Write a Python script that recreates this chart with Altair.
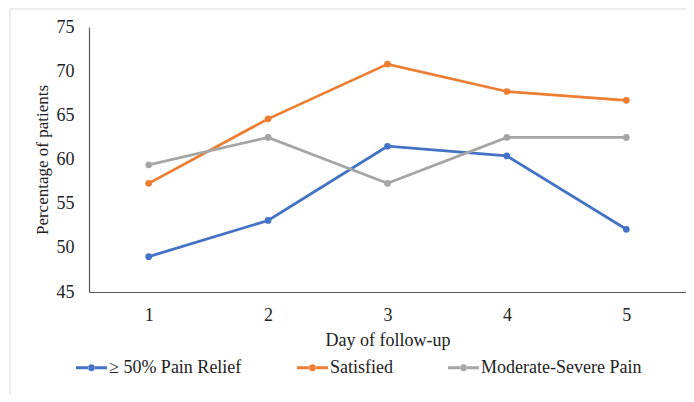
import altair as alt
import pandas as pd

days = ["1", "2", "3", "4", "5"]
series_names = ["≥ 50% Pain Relief", "Satisfied", "Moderate-Severe Pain"]
pain_relief = [49.0, 53.1, 61.5, 60.4, 52.1]
satisfied = [57.3, 64.6, 70.8, 67.7, 66.7]
mod_severe = [59.4, 62.5, 57.3, 62.5, 62.5]
colors = ["#4472C4", "#ED7D31", "#A5A5A5"]

rows = []
for name, vals in zip(series_names, [pain_relief, satisfied, mod_severe]):
    for d, v in zip(days, vals):
        rows.append({"Day": d, "Value": v, "Series": name})
df = pd.DataFrame(rows)

FONT = "Liberation Serif"
legend_path = ("M-1,-0.1H-0.2V0.1H-1Z M0.2,-0.1H1V0.1H0.2Z "
               "M0.23,0A0.23,0.23 0 1,0 -0.23,0A0.23,0.23 0 1,0 0.23,0Z")

x = alt.X("Day:O", sort=days, scale=alt.Scale(type="point", padding=0.5),
          axis=alt.Axis(title="Day of follow-up", labelAngle=0, ticks=False, tickSize=0,
                        labelPadding=14, titlePadding=7, domainColor="#595959",
                        domainWidth=1.2, labelFontSize=18, titleFontSize=18))
y = alt.Y("Value:Q", scale=alt.Scale(domain=[45, 75], nice=False, zero=False),
          axis=alt.Axis(title="Percentage of patients", values=[45, 50, 55, 60, 65, 70, 75],
                        grid=False, ticks=False, tickSize=0, labelPadding=15, titlePadding=5,
                        domainColor="#595959", domainWidth=1.2, labelFontSize=18,
                        titleFontSize=17))
color = alt.Color("Series:N", sort=series_names,
                  scale=alt.Scale(domain=series_names, range=colors),
                  legend=alt.Legend(title=None, orient="none", direction="horizontal",
                                    legendX=-13, legendY=325, symbolType=legend_path,
                                    symbolSize=961, symbolStrokeWidth=0, labelOffset=2,
                                    columnPadding=55, padding=0, labelFontSize=18,
                                    labelFont=FONT, labelColor="#222222", labelLimit=300))

base = alt.Chart(df)
lines = base.mark_line(strokeWidth=2.75).encode(x=x, y=y, color=color)
points = base.mark_circle(size=45, opacity=1).encode(x=x, y=y, color=color)

frame = alt.Chart(pd.DataFrame({"a": [0]})).mark_rect(
    fill=None, stroke="#D9D9D9", strokeWidth=1, clip=False
).encode(x=alt.value(-79), x2=alt.value(700), y=alt.value(-18), y2=alt.value(500))

chart = alt.layer(frame, lines, points).properties(
    width=597, height=265,
    background="white",
    autosize=alt.AutoSizeParams(type="none"),
    padding={"left": 81, "top": 19, "right": 0, "bottom": 102},
).configure_view(stroke=None).configure_axis(
    labelFont=FONT, titleFont=FONT,
    titleFontWeight="normal", labelColor="#222222", titleColor="#222222"
).configure_legend(labelFont=FONT)

chart.save("out.html", embed_options={"renderer": "svg", "actions": False})
